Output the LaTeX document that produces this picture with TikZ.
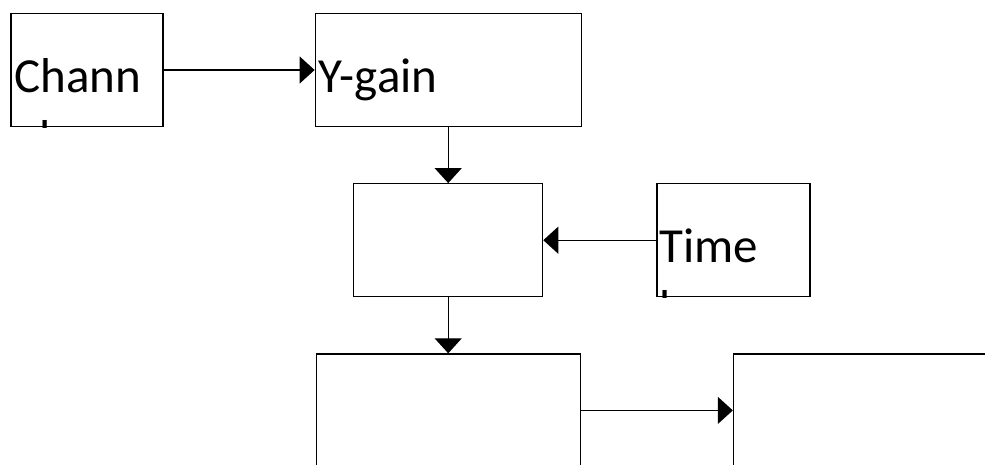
\documentclass[tikz,border=0pt]{standalone}
\usepackage{fontspec}
\setmainfont{Carlito}
\usetikzlibrary{arrows.meta,positioning}

\begin{document}
\begin{tikzpicture}[x=1pt, y=-1pt,
  block/.style={rectangle, draw=black, line width=1.2pt,
                minimum width=#1, minimum height=113pt, inner sep=0pt},
  blocktext/.style={anchor=base west, inner sep=0pt, align=left,
                    font=\fontsize{49}{62}\selectfont},
  arr/.style={-{Triangle[length=15pt,width=27pt]}, line width=1.2pt}
]
  \clip (0,0) rectangle (985,464);
  % blocks
  \node[block=152pt] (chan) at (87,70) {};
  \node[block=266pt, right=151pt of chan] (ygain) {};
  \node[block=189pt, below=56pt of ygain] (mix) {};
  \node[block=153pt, right=113pt of mix] (time) {};
  \node[block=264pt, below=56pt of mix] (disp) {};
  \node[block=264pt, right=152pt of disp] (screen) {};
  % texts, cut off by their boxes (base is the last line)
  \begin{scope}
    \clip (chan.south west) rectangle (chan.north east);
    \node[blocktext] (chantext) at ([xshift=4pt,yshift=-84pt]chan.west) {Chann\\el};
  \end{scope}
  \node[blocktext] (ygaintext) at ([xshift=4pt,yshift=-22pt]ygain.west) {Y-gain};
  \begin{scope}
    \clip (time.south west) rectangle (time.north east);
    \node[blocktext] (timetext) at ([xshift=3pt,yshift=-84pt]time.west) {Time\\base};
  \end{scope}
  % connectors
  \draw[arr] (chan) -- (ygain);
  \draw[arr] (ygain) -- (mix);
  \draw[arr] (time) -- (mix);
  \draw[arr] (mix) -- (disp);
  \draw[arr] (disp) -- (screen);
\end{tikzpicture}
\end{document}
